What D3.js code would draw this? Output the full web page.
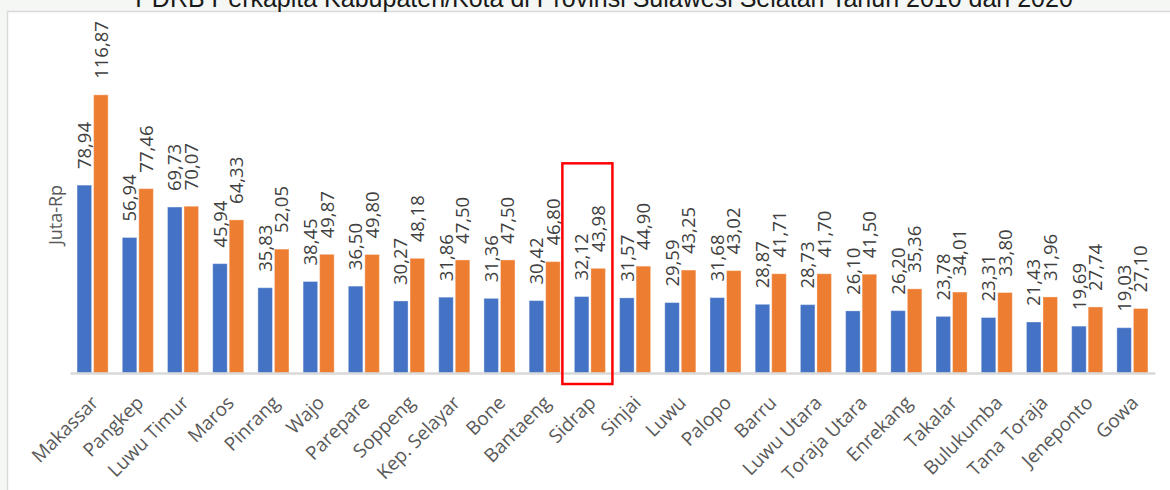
<!DOCTYPE html>
<html>
<head>
<meta charset="utf-8">
<script src="https://cdn.jsdelivr.net/npm/d3@7"></script>
<style>
  body { margin: 0; background: #fff; }
  svg { display: block; }
</style>
</head>
<body>
<div id="chart"></div>
<script>
const regions = ["Makassar", "Pangkep", "Luwu Timur", "Maros", "Pinrang", "Wajo", "Parepare", "Soppeng",
    "Kep. Selayar", "Bone", "Bantaeng", "Sidrap", "Sinjai", "Luwu", "Palopo", "Barru", "Luwu Utara",
    "Toraja Utara", "Enrekang", "Takalar", "Bulukumba", "Tana Toraja", "Jeneponto", "Gowa"];
const years = ["2010", "2020"];
const values2010 = [78.94, 56.94, 69.73, 45.94, 35.83, 38.45, 36.50, 30.27, 31.86, 31.36, 30.42, 32.12,
    31.57, 29.59, 31.68, 28.87, 28.73, 26.10, 26.20, 23.78, 23.31, 21.43, 19.69, 19.03];
const values2020 = [116.87, 77.46, 70.07, 64.33, 52.05, 49.87, 49.80, 48.18, 47.50, 47.50, 46.80, 43.98,
    44.90, 43.25, 43.02, 41.71, 41.70, 41.50, 35.36, 34.01, 33.80, 31.96, 27.74, 27.10];
const highlighted = "Sidrap";
const title = "PDRB Perkapita Kabupaten/Kota di Provinsi Sulawesi Selatan Tahun 2010 dan 2020";
const yLabel = "Juta-Rp";

const width = 1170,
    height = 490;
const colors = { "2010": "#4472c4", "2020": "#ed7d31" };
const textFont = "'Open Sans', 'Noto Sans', sans-serif";

// indonesian number format: 116,87
const locale = d3.formatLocale({ decimal: ",", thousands: ".", grouping: [3], currency: ["Rp", ""] });
const format = locale.format(".2f");

const data = regions.map(function(r, i) {
    return { region: r, values: [
        { year: "2010", value: values2010[i] },
        { year: "2020", value: values2020[i] }
    ] };
});

const svg = d3.select("#chart").append("svg")
    .attr("width", width)
    .attr("height", height);

//////////////////////// background + title ////////////////////////
svg.append("rect")
    .attr("width", width).attr("height", height)
    .attr("fill", "#f4f7f4");
svg.append("rect")
    .attr("x", 7.5).attr("y", 11.5)
    .attr("width", width).attr("height", height)
    .attr("fill", "#ffffff")
    .attr("stroke", "#d9d9d9")
    .attr("stroke-width", 1.5);

svg.append("text")
    .attr("x", 604)
    .attr("y", 7)
    .attr("text-anchor", "middle")
    .style("font-family", "'Liberation Sans', Arial, sans-serif")
    .style("font-size", "25px")
    .attr("fill", "#1a1a1a")
    .text(title);

//////////////////////// scales ////////////////////////
const x0 = d3.scaleBand()
    .domain(regions)
    .range([70, 1155])
    .paddingInner(0.225)
    .paddingOuter(0.1125);

const x1 = d3.scaleBand()
    .domain(years)
    .range([0, x0.bandwidth()])
    .padding(0.12);

const y = d3.scaleLinear()
    .domain([0, 120])
    .range([373, 373 - 120 * 2.38]);

//////////////////////// bars ////////////////////////
const group = svg.selectAll(".group")
    .data(data)
    .enter().append("g")
    .attr("class", "group")
    .attr("transform", function(d) { return "translate(" + x0(d.region) + ",0)"; });

group.selectAll("rect")
    .data(function(d) { return d.values; })
    .enter().append("rect")
    .attr("x", function(d) { return x1(d.year); })
    .attr("y", function(d) { return y(d.value); })
    .attr("width", x1.bandwidth())
    .attr("height", function(d) { return y(0) - y(d.value); })
    .attr("fill", function(d) { return colors[d.year]; })
    .attr("stroke", "#ffffff")
    .attr("stroke-opacity", 0.35)
    .attr("stroke-width", 1);

group.selectAll(".label")
    .data(function(d) { return d.values; })
    .enter().append("text")
    .attr("class", "label")
    .attr("transform", function(d) {
        return "translate(" + (x1(d.year) + x1.bandwidth() / 2) + "," + (y(d.value) - 16) + ") rotate(-90)";
    })
    .attr("dy", "0.36em")
    .style("font-family", textFont)
    .style("font-size", "18.5px")
    .attr("fill", "#404040")
    .text(function(d) { return format(d.value); });

//////////////////////// axis ////////////////////////
const xAxis = svg.append("g")
    .attr("transform", "translate(0," + y(0) + ")")
    .call(d3.axisBottom(x0).tickSize(0).tickSizeOuter(0));

xAxis.select(".domain")
    .attr("stroke", "#d9d9d9")
    .attr("stroke-width", 2.5);

xAxis.selectAll(".tick text")
    .attr("x", 0).attr("y", 0).attr("dy", 0)
    .attr("text-anchor", "end")
    .attr("transform", "translate(7,31) rotate(-45)")
    .style("font-family", textFont)
    .style("font-size", "19px")
    .attr("fill", "#595959");

svg.append("text")
    .attr("transform", "translate(62,215) rotate(-90)")
    .attr("text-anchor", "middle")
    .style("font-family", textFont)
    .style("font-size", "18px")
    .attr("fill", "#595959")
    .text(yLabel);

//////////////////////// highlight box ////////////////////////
const hi = data.find(function(d) { return d.region === highlighted; });
const hiMax = d3.max(hi.values, function(d) { return d.value; });
svg.append("rect")
    .attr("x", x0(highlighted) - 10)
    .attr("y", y(hiMax) - 105)
    .attr("width", x0.bandwidth() + 15)
    .attr("height", y(0) - y(hiMax) + 105 + 11)
    .attr("fill", "none")
    .attr("stroke", "#ff0000")
    .attr("stroke-width", 2.5);
</script>
</body>
</html>
